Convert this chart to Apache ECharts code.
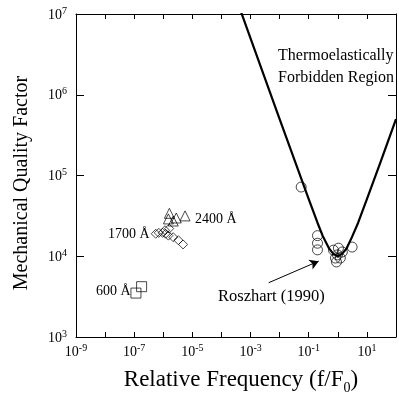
<!DOCTYPE html>
<html>
<head>
    <meta charset="UTF-8">
    <title>Mechanical Quality Factor</title>
    <script src="https://cdn.jsdelivr.net/npm/echarts@6/dist/echarts.min.js"></script>
    <style>
        html, body { margin: 0; padding: 0; background: #fff; }
        #chart { width: 399px; height: 398px; }
    </style>
</head>
<body>
<div id="chart"></div>
<script>
    // Roszhart (1990) circles
    const roszhartX = [0.055, 0.2, 0.2, 0.2, 3.1, 0.71, 0.97, 0.83, 1.43, 1.22, 1.05, 0.9];
    const roszhartQ = [7.2e4, 1.8e4, 1.45e4, 1.2e4, 1.3e4, 1.19e4, 1.04e4, 9.5e3, 1.13e4, 9.5e3, 1.26e4, 8.5e3];

    // 2400 A triangles
    const film2400X = [1.62e-6, 1.5e-6, 2.2e-6, 2.8e-6, 5.6e-6];
    const film2400Q = [3.4e4, 2.9e4, 2.73e4, 2.98e4, 3.16e4];

    // 1700 A diamonds
    const film1700X = [5.5e-7, 7e-7, 9.5e-7, 1.15e-6, 1.2e-6, 1.6e-6, 1.5e-6, 2.2e-6, 3.3e-6, 4.8e-6];
    const film1700Q = [1.9e4, 1.95e4, 1.95e4, 2.1e4, 1.9e4, 2.2e4, 1.8e4, 1.72e4, 1.58e4, 1.4e4];

    // 600 A squares
    const film600X = [1.15e-7, 1.8e-7];
    const film600Q = [3.5e3, 4.2e3];

    // thermoelastic limit curve
    const limitX = [4e-4, 1e-3, 1e-2, 1e-1, 0.2, 0.3, 0.5, 0.7, 1, 1.4, 2, 3, 5, 10, 30, 100];
    const limitQ = [1.25e7, 5e6, 5e5, 5.1e4, 2.6e4, 1.8e4, 1.25e4, 1.07e4, 1.0e4, 1.07e4, 1.25e4, 1.7e4, 2.6e4, 5.1e4, 1.5e5, 5e5];

    const arrowFrom = [4.2e-3, 4.7e3];
    const arrowTo = [0.22, 8.7e3];

    const serif = 'Liberation Serif';
    const zip = (xs, ys) => xs.map((x, i) => [x, ys[i]]);
    const powLabel = (v) => '{b|10}{s|' + Math.round(Math.log10(v)) + '}';

    const chart = echarts.init(document.getElementById('chart'));

    // tick settings that rendered in the test pages
    function xTick() {
        return { show: true, inside: true, length: 5 };
    }
    function yTick() {
        return { show: true, inside: true, length: 8 };
    }
    function axLine() {
        return { show: true, lineStyle: { color: '#000', width: 1 } };
    }
    const richPow = {
        b: { fontFamily: serif, fontSize: 14, color: '#000', verticalAlign: 'bottom' },
        s: { fontFamily: serif, fontSize: 10, color: '#000', verticalAlign: 'bottom', padding: [0, 0, 6, 0] }
    };
    const hollow = { color: 'rgba(0,0,0,0)', borderColor: '#000', borderWidth: 0.9 };

    const option = {
        animation: false,
        backgroundColor: '#fff',
        grid: { left: 76, top: 14, right: -3, bottom: 61 },
        xAxis: [
            {
                type: 'log', logBase: 10, min: 1e-9, max: 1e2, interval: 1,
                axisLine: axLine(), axisTick: xTick(), splitLine: { show: false },
                axisLabel: {
                    margin: 6, interval: 0,
                    formatter: (v) => (Math.round(Math.log10(v)) % 2 === 0 ? '' : powLabel(v)),
                    rich: richPow
                }
            },
            {
                type: 'log', logBase: 10, min: 1e-9, max: 1e2, interval: 1, position: 'top',
                axisLine: axLine(), axisTick: xTick(), splitLine: { show: false },
                axisLabel: { show: false }
            }
        ],
        yAxis: [
            {
                type: 'log', logBase: 10, min: 1e3, max: 1e7,
                axisLine: axLine(), axisTick: yTick(), splitLine: { show: false },
                axisLabel: { margin: 9, formatter: powLabel, rich: richPow }
            },
            {
                type: 'log', logBase: 10, min: 1e3, max: 1e7, position: 'right',
                axisLine: axLine(), axisTick: yTick(), splitLine: { show: false },
                axisLabel: { show: false }
            }
        ],
        series: [
            {
                name: 'limit', type: 'line', data: zip(limitX, limitQ),
                showSymbol: false, symbol: 'none', clip: true,
                lineStyle: { color: '#000', width: 2.2 },
                markLine: {
                    silent: true, symbol: ['none', 'arrow'], symbolSize: [8, 9],
                    label: { show: false },
                    lineStyle: { color: '#000', width: 1, type: 'solid' },
                    data: [[{ coord: arrowFrom }, { coord: arrowTo }]]
                }
            },
            {
                name: 'Roszhart', type: 'scatter', data: zip(roszhartX, roszhartQ),
                symbol: 'circle', symbolSize: 10, itemStyle: hollow
            },
            {
                name: '2400', type: 'scatter', data: zip(film2400X, film2400Q),
                symbol: 'triangle', symbolSize: 10, itemStyle: hollow
            },
            {
                name: '1700', type: 'scatter', data: zip(film1700X, film1700Q),
                symbol: 'diamond', symbolSize: 9, itemStyle: hollow
            },
            {
                name: '600', type: 'scatter', data: zip(film600X, film600Q),
                symbol: 'rect', symbolSize: 10, itemStyle: hollow
            }
        ],
        graphic: [
            {
                type: 'text', left: 278, top: 45,
                style: { text: 'Thermoelastically\nForbidden Region', font: '16px "Liberation Serif"', fill: '#000', lineHeight: 22 }
            },
            { type: 'text', left: 195, top: 212, style: { text: '2400 Å', font: '14px "Liberation Serif"', fill: '#000' } },
            { type: 'text', left: 108, top: 227, style: { text: '1700 Å', font: '14px "Liberation Serif"', fill: '#000' } },
            { type: 'text', left: 96, top: 284, style: { text: '600 Å', font: '14px "Liberation Serif"', fill: '#000' } },
            { type: 'text', left: 218, top: 288, style: { text: 'Roszhart (1990)', font: '16.5px "Liberation Serif"', fill: '#000' } },
            {
                type: 'text', x: 22, y: 183, rotation: Math.PI / 2,
                style: { text: 'Mechanical Quality Factor', font: '20px "Liberation Serif"', fill: '#000', align: 'center', verticalAlign: 'middle' }
            },
            {
                type: 'text', x: 241, y: 380,
                style: {
                    text: '{a|Relative Frequency (f/F}{sub|0}{a|)}', align: 'center', verticalAlign: 'middle',
                    rich: {
                        a: { fontFamily: serif, fontSize: 23, color: '#000' },
                        sub: { fontFamily: serif, fontSize: 14, color: '#000', padding: [16, 0, 0, 0] }
                    }
                }
            }
        ]
    };

    chart.setOption(option);
</script>
</body>
</html>
